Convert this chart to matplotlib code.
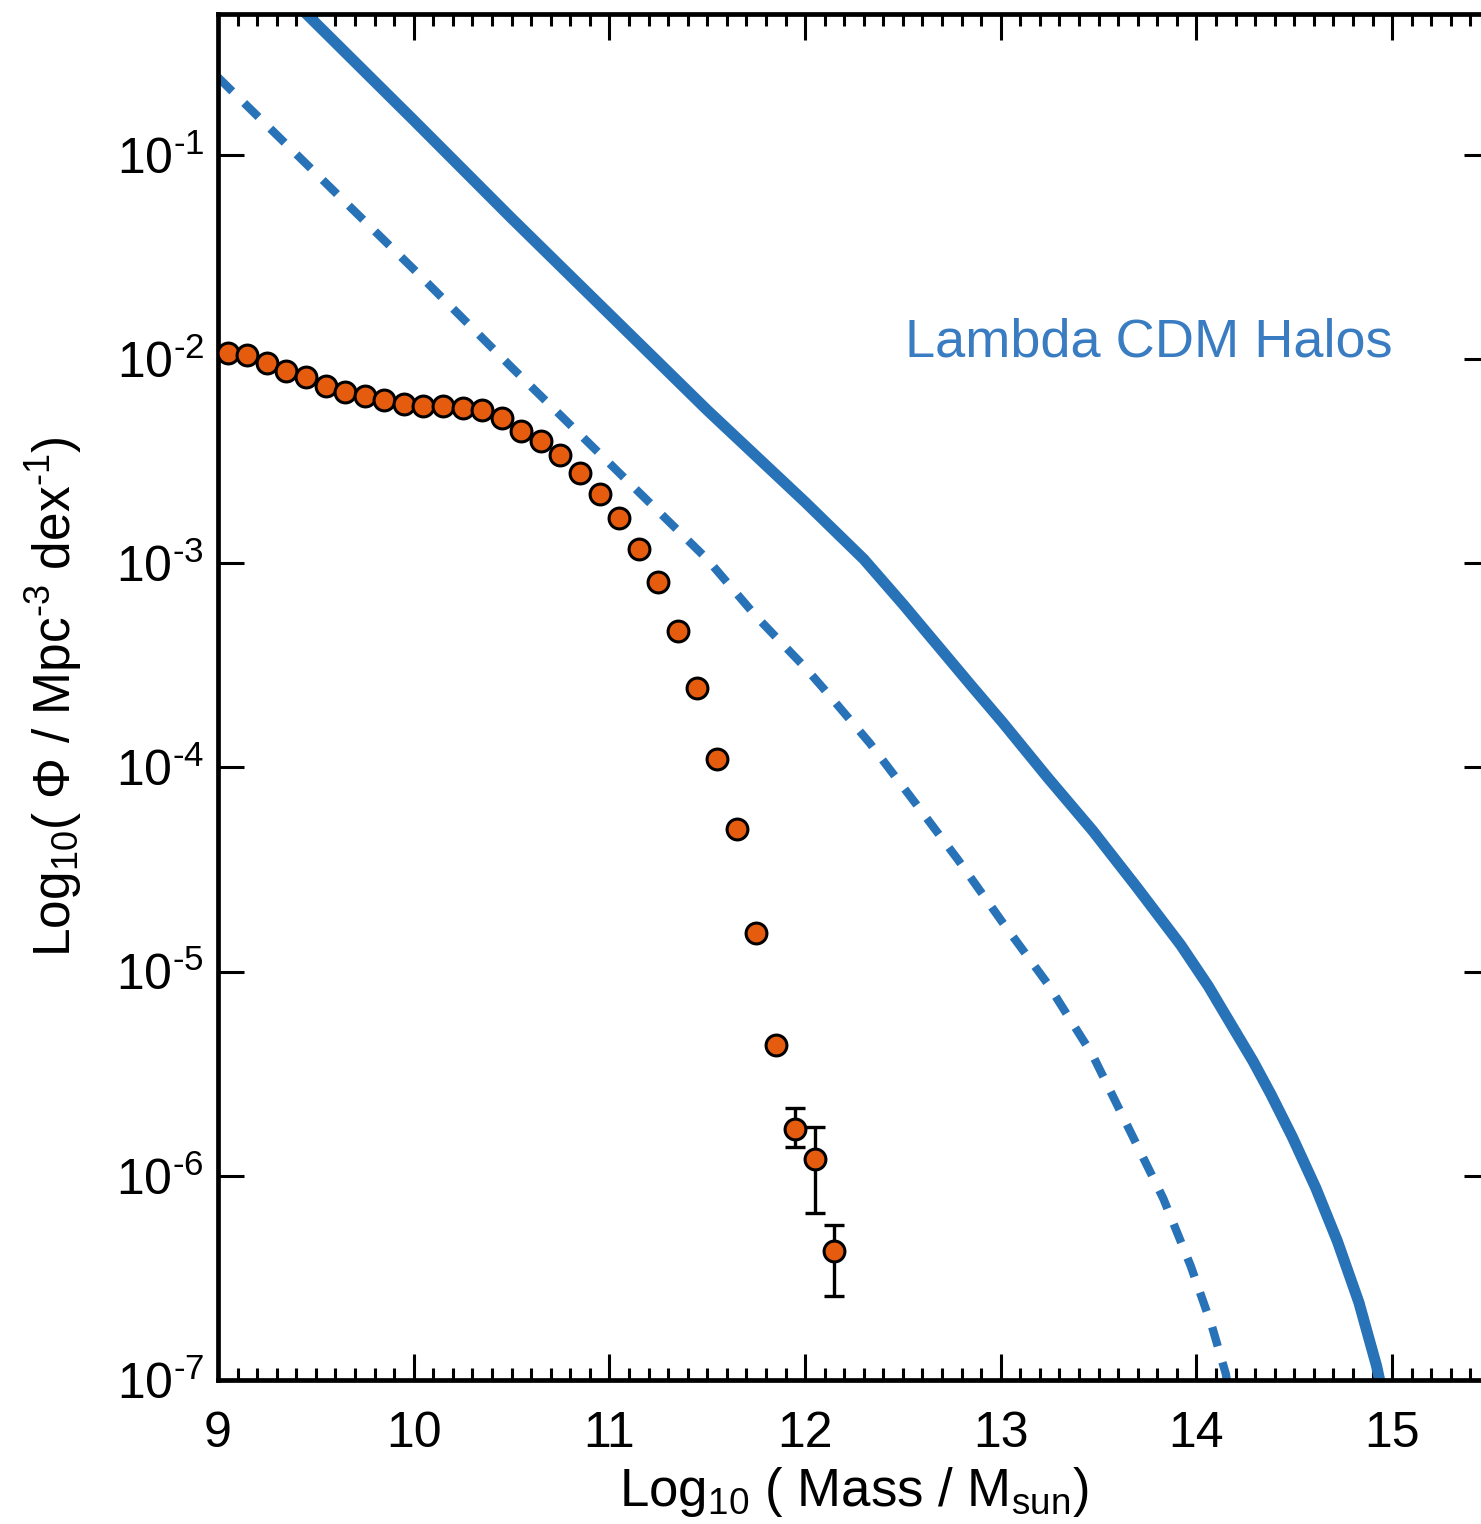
import matplotlib
matplotlib.use("Agg")
import matplotlib.pyplot as plt
import numpy as np
from matplotlib.ticker import FixedLocator, MultipleLocator, NullLocator, FixedFormatter

# observed mass function points (log10 mass, log10 phi)
pt_mass = [9.05, 9.15, 9.25, 9.35, 9.45, 9.55, 9.65, 9.75, 9.85, 9.95,
           10.05, 10.15, 10.25, 10.35, 10.45, 10.55, 10.65, 10.75, 10.85, 10.95,
           11.05, 11.15, 11.25, 11.35, 11.45, 11.55, 11.65, 11.75, 11.85, 11.95,
           12.05, 12.15]
pt_logphi = [-1.97, -1.98, -2.02, -2.06, -2.09, -2.13, -2.16, -2.18, -2.20, -2.22,
             -2.23, -2.23, -2.24, -2.25, -2.29, -2.35, -2.40, -2.47, -2.56, -2.66,
             -2.78, -2.93, -3.09, -3.33, -3.61, -3.96, -4.30, -4.81, -5.36, -5.77,
             -5.92, -6.37]

# error bars on the last three points (log10 phi of bar ends)
err_mass = [11.95, 12.05, 12.15]
err_top = [-5.67, -5.76, -6.24]
err_bot = [-5.86, -6.18, -6.59]

# Lambda CDM halo mass function (solid)
halo_mass = [9.4, 10.0, 10.5, 11.0, 11.5, 12.0, 12.3, 12.5, 12.85, 13.01, 13.24, 13.47,
             13.69, 13.92, 14.06, 14.15, 14.29, 14.38, 14.49, 14.61, 14.72, 14.83,
             14.92, 14.97]
halo_logphi = [-0.26, -0.83, -1.31, -1.78, -2.25, -2.70, -2.98, -3.20, -3.60, -3.78, -4.05, -4.31,
               -4.58, -4.87, -5.07, -5.215, -5.44, -5.60, -5.81, -6.06, -6.32, -6.62,
               -6.93, -7.15]

# halos scaled by baryon fraction (dashed)
bary_mass = [9.0, 9.5, 10.0, 10.5, 11.0, 11.5, 11.75, 12.0, 12.1, 12.33, 12.56, 12.78,
             13.01, 13.24, 13.47, 13.65, 13.83, 13.97, 14.08, 14.15, 14.18]
bary_logphi = [-0.62, -1.09, -1.56, -2.04, -2.51, -2.98, -3.26, -3.51, -3.62, -3.88, -4.17, -4.45,
               -4.76, -5.06, -5.41, -5.76, -6.11, -6.44, -6.74, -6.97, -7.15]

ytick_vals = [1e-1, 1e-2, 1e-3, 1e-4, 1e-5, 1e-6, 1e-7]
ytick_labels = [r'$10^{\text{-}1}$', r'$10^{\text{-}2}$', r'$10^{\text{-}3}$', r'$10^{\text{-}4}$',
                r'$10^{\text{-}5}$', r'$10^{\text{-}6}$', r'$10^{\text{-}7}$']

plt.rcParams['font.family'] = ['Liberation Sans', 'DejaVu Sans']
plt.rcParams['mathtext.fontset'] = 'custom'
plt.rcParams['mathtext.rm'] = 'Liberation Sans'
plt.rcParams['mathtext.it'] = 'Liberation Sans:italic'
plt.rcParams['mathtext.bf'] = 'Liberation Sans:bold'

blue = '#2872b8'
orange = '#e65c0e'

fig = plt.figure(figsize=(14.81, 15.24), dpi=100)
ax = fig.add_axes([218 / 1481, 144 / 1524, (1490 - 218) / 1481, (1380 - 14) / 1524])

ax.plot(halo_mass, 10 ** np.array(halo_logphi), '-', color=blue, lw=8,
        solid_capstyle='butt', solid_joinstyle='round')
ax.plot(bary_mass, 10 ** np.array(bary_logphi), '--', color=blue, lw=6, dashes=(2.4, 2.0))

top = 10 ** np.array(err_top)
bot = 10 ** np.array(err_bot)
mid = 10 ** np.array(pt_logphi[-3:])
ax.errorbar(err_mass, mid, yerr=[mid - bot, top - mid], fmt='none', ecolor='black',
            elinewidth=2.4, capsize=7, capthick=2.4, zorder=3)
ax.plot(pt_mass, 10 ** np.array(pt_logphi), 'o', color=orange, markersize=15,
        markeredgecolor='black', markeredgewidth=2.2, zorder=4)

ax.text(15.0, 10 ** -1.92, 'Lambda CDM Halos', color='#3a7cc2', fontsize=39,
        ha='right', va='center')

ax.set_yscale('log')
ax.set_xlim(9, 15.5)
ax.set_ylim(1e-7, 0.49)

ax.xaxis.set_major_locator(MultipleLocator(1))
ax.xaxis.set_minor_locator(MultipleLocator(0.1))
ax.yaxis.set_major_locator(FixedLocator(ytick_vals))
ax.yaxis.set_major_formatter(FixedFormatter(ytick_labels))
ax.yaxis.set_minor_locator(NullLocator())

ax.tick_params(axis='both', which='major', direction='in', length=19, width=2.2,
               labelsize=36, top=True, right=True)
ax.tick_params(axis='x', which='major', pad=22)
ax.tick_params(axis='y', which='major', pad=10)
ax.tick_params(axis='x', which='minor', direction='in', length=8.5, width=2.2, top=True)

for s in ax.spines.values():
    s.set_linewidth(3.4)

ax.set_xlabel(r'Log$_{10}$ ( Mass / M$_{\mathrm{sun}}$)', fontsize=38, labelpad=6)
ax.set_ylabel(r'Log$_{10}$( Φ / Mpc$^{\text{-}3}$ dex$^{\text{-}1}$)', fontsize=37)
ax.yaxis.set_label_coords(-0.105, 0.5)

plt.savefig('out.png', dpi=100)
